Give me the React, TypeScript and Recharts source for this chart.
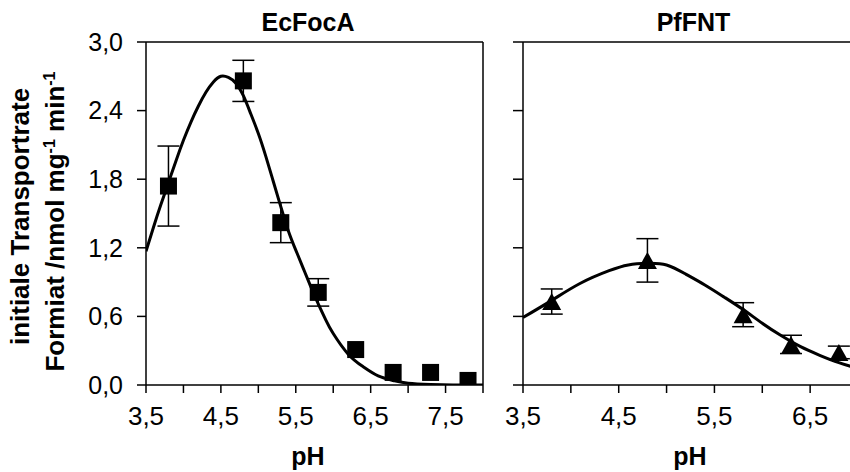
import { ComposedChart, Line, Scatter, XAxis, YAxis, ErrorBar, ReferenceLine } from 'recharts'

const FONT = "'Liberation Sans', Arial, Helvetica, sans-serif"

// EcFocA – measured points
const ecPh = [3.8, 4.8, 5.3, 5.8, 6.3, 6.8, 7.3, 7.8]
const ecRate = [1.74, 2.66, 1.42, 0.81, 0.31, 0.11, 0.11, 0.04]
const ecErr = [0.35, 0.18, 0.175, 0.12, 0, 0, 0, 0]

// EcFocA – fit curve
const ecFitPh = [3.5, 3.6, 3.7, 3.8, 3.9, 4.0, 4.1, 4.2, 4.3, 4.4, 4.5, 4.6, 4.7, 4.8, 4.9, 5.0, 5.1, 5.2, 5.3, 5.4, 5.5, 5.6, 5.7, 5.8, 5.9, 6.0, 6.2, 6.4, 6.6, 6.8, 7.0, 7.3, 7.6, 8.0]
const ecFitRate = [1.17, 1.38, 1.58, 1.77, 1.96, 2.14, 2.3, 2.44, 2.56, 2.65, 2.7, 2.69, 2.64, 2.53, 2.37, 2.2, 2.0, 1.78, 1.56, 1.35, 1.18, 1.02, 0.86, 0.71, 0.57, 0.45, 0.27, 0.16, 0.08, 0.04, 0.015, 0.004, 0, 0]

// PfFNT – measured points
const pfPh = [3.8, 4.8, 5.8, 6.3, 6.8]
const pfRate = [0.73, 1.09, 0.615, 0.355, 0.285]
const pfErr = [0.11, 0.19, 0.105, 0.08, 0.055]

// PfFNT – fit curve
const pfFitPh = [3.5, 3.8, 4.1, 4.4, 4.6, 4.8, 5.0, 5.2, 5.4, 5.6, 5.8, 6.0, 6.2, 6.4, 6.6, 6.8, 7.0]
const pfFitRate = [0.59, 0.74, 0.89, 1.0, 1.05, 1.065, 1.05, 0.97, 0.875, 0.77, 0.66, 0.54, 0.43, 0.335, 0.26, 0.195, 0.145]

const yTicks = [0, 0.6, 1.2, 1.8, 2.4, 3.0]
const ecXTicks = [3.5, 4.0, 4.5, 5.0, 5.5, 6.0, 6.5, 7.0, 7.5, 8.0]
const pfXTicks = [3.5, 4.0, 4.5, 5.0, 5.5, 6.0, 6.5, 7.0]

const ecPoints = ecPh.map((ph, i) => ({ ph, v: ecRate[i], err: ecErr[i] }))
const ecFit = ecFitPh.map((ph, i) => ({ ph, v: ecFitRate[i] }))
const pfPoints = pfPh.map((ph, i) => ({ ph, v: pfRate[i], err: pfErr[i] }))
const pfFit = pfFitPh.map((ph, i) => ({ ph, v: pfFitRate[i] }))

const comma = (v: number) => v.toFixed(1).replace('.', ',')
const xLabel = (v: number) => ((v * 2) % 2 === 1 ? comma(v) : '')

const line = { stroke: '#000', strokeWidth: 1.5 }

function Square(props: any) {
  const { cx, cy } = props
  return <rect x={cx - 8.5} y={cy - 8.5} width={17} height={17} fill="#000" />
}

function Triangle(props: any) {
  const { cx, cy } = props
  const w = 19
  const h = 17
  return (
    <polygon
      points={`${cx},${cy - h / 2} ${cx - w / 2},${cy + h / 2} ${cx + w / 2},${cy + h / 2}`}
      fill="#000"
    />
  )
}

function Title({ viewBox, text, dx }: any) {
  if (!viewBox) return null
  return (
    <text
      x={viewBox.x + viewBox.width / 2 + dx}
      y={viewBox.y - 11}
      textAnchor="middle"
      fontFamily={FONT}
      fontWeight="bold"
      fontSize={25}
      fill="#000"
    >
      {text}
    </text>
  )
}

function PhLabel({ viewBox, dx }: any) {
  if (!viewBox) return null
  return (
    <text
      x={viewBox.x + viewBox.width / 2 + dx}
      y={viewBox.y + 80}
      textAnchor="middle"
      fontFamily={FONT}
      fontWeight="bold"
      fontSize={25}
      fill="#000"
    >
      pH
    </text>
  )
}

function RateLabel({ viewBox }: any) {
  if (!viewBox) return null
  const cy = viewBox.y + viewBox.height / 2
  return (
    <g fontFamily={FONT} fontWeight="bold" fontSize={26} fill="#000">
      <text x={29} y={cy + 3} textAnchor="middle" transform={`rotate(-90, 29, ${cy + 3})`}>
        initiale Transportrate
      </text>
      <text x={64} y={cy + 8} textAnchor="middle" transform={`rotate(-90, 64, ${cy + 8})`}>
        Formiat /nmol mg
        <tspan dy={-9} fontSize={16}>-1</tspan>
        <tspan dy={9}> min</tspan>
        <tspan dy={-9} fontSize={16}>-1</tspan>
      </text>
    </g>
  )
}

function EcFocAPanel(): JSX.Element {
  return (
    <ComposedChart width={495} height={472} margin={{ top: 42, right: 12, bottom: 0, left: 0 }}>
      <XAxis
        type="number"
        dataKey="ph"
        domain={[3.5, 8]}
        ticks={ecXTicks}
        interval={0}
        tickFormatter={xLabel}
        height={87}
        tickSize={8}
        tickMargin={14}
        axisLine={line}
        tickLine={line}
        tick={{ fill: '#000', fontSize: 26, fontFamily: FONT }}
        allowDataOverflow
        label={<PhLabel dx={-6.5} />}
      />
      <YAxis
        type="number"
        dataKey="v"
        domain={[0, 3]}
        ticks={yTicks}
        interval={0}
        tickFormatter={comma}
        width={146}
        tickSize={9}
        tickMargin={14}
        axisLine={line}
        tickLine={line}
        tick={{ fill: '#000', fontSize: 25, fontFamily: FONT }}
        allowDataOverflow
        label={<RateLabel />}
      />
      <ReferenceLine y={3} stroke="#000" strokeWidth={1.5} label={<Title text="EcFocA" dx={-6.5} />} />
      <ReferenceLine x={8} stroke="#000" strokeWidth={1.5} />
      <Line
        data={ecFit}
        dataKey="v"
        type="natural"
        stroke="#000"
        strokeWidth={3}
        dot={false}
        activeDot={false}
        isAnimationActive={false}
      />
      <Scatter data={ecPoints} dataKey="v" shape={<Square />} isAnimationActive={false}>
        <ErrorBar dataKey="err" direction="y" width={11} stroke="#000" strokeWidth={1.5} />
      </Scatter>
    </ComposedChart>
  )
}

// the right panel runs past the picture's edge and is clipped there
function PfFNTPanel(): JSX.Element {
  return (
    <ComposedChart width={373} height={472} margin={{ top: 42, right: 10, bottom: 0, left: 0 }}>
      <XAxis
        type="number"
        dataKey="ph"
        domain={[3.5, 7.0]}
        ticks={pfXTicks}
        interval={0}
        tickFormatter={xLabel}
        height={87}
        tickSize={8}
        tickMargin={14}
        axisLine={line}
        tickLine={line}
        tick={{ fill: '#000', fontSize: 26, fontFamily: FONT }}
        allowDataOverflow
        label={<PhLabel dx={-0.5} />}
      />
      <YAxis
        type="number"
        dataKey="v"
        domain={[0, 3]}
        ticks={yTicks}
        interval={0}
        tickFormatter={() => ''}
        width={28}
        tickSize={10}
        axisLine={line}
        tickLine={line}
        allowDataOverflow
      />
      <ReferenceLine y={3} stroke="#000" strokeWidth={1.5} label={<Title text="PfFNT" dx={3} />} />
      <ReferenceLine x={7} stroke="#000" strokeWidth={1.5} />
      <Line
        data={pfFit}
        dataKey="v"
        type="natural"
        stroke="#000"
        strokeWidth={3}
        dot={false}
        activeDot={false}
        isAnimationActive={false}
      />
      <Scatter data={pfPoints} dataKey="v" shape={<Triangle />} isAnimationActive={false}>
        <ErrorBar dataKey="err" direction="y" width={11} stroke="#000" strokeWidth={1.5} />
      </Scatter>
    </ComposedChart>
  )
}

export default function App(): JSX.Element {
  return (
    <div
      style={{
        position: 'absolute',
        left: 0,
        top: 0,
        width: 850,
        height: 472,
        overflow: 'hidden',
        background: '#fff',
      }}
    >
      <div style={{ position: 'absolute', left: 0, top: 0 }}>
        <EcFocAPanel />
      </div>
      <div style={{ position: 'absolute', left: 495, top: 0 }}>
        <PfFNTPanel />
      </div>
    </div>
  )
}
